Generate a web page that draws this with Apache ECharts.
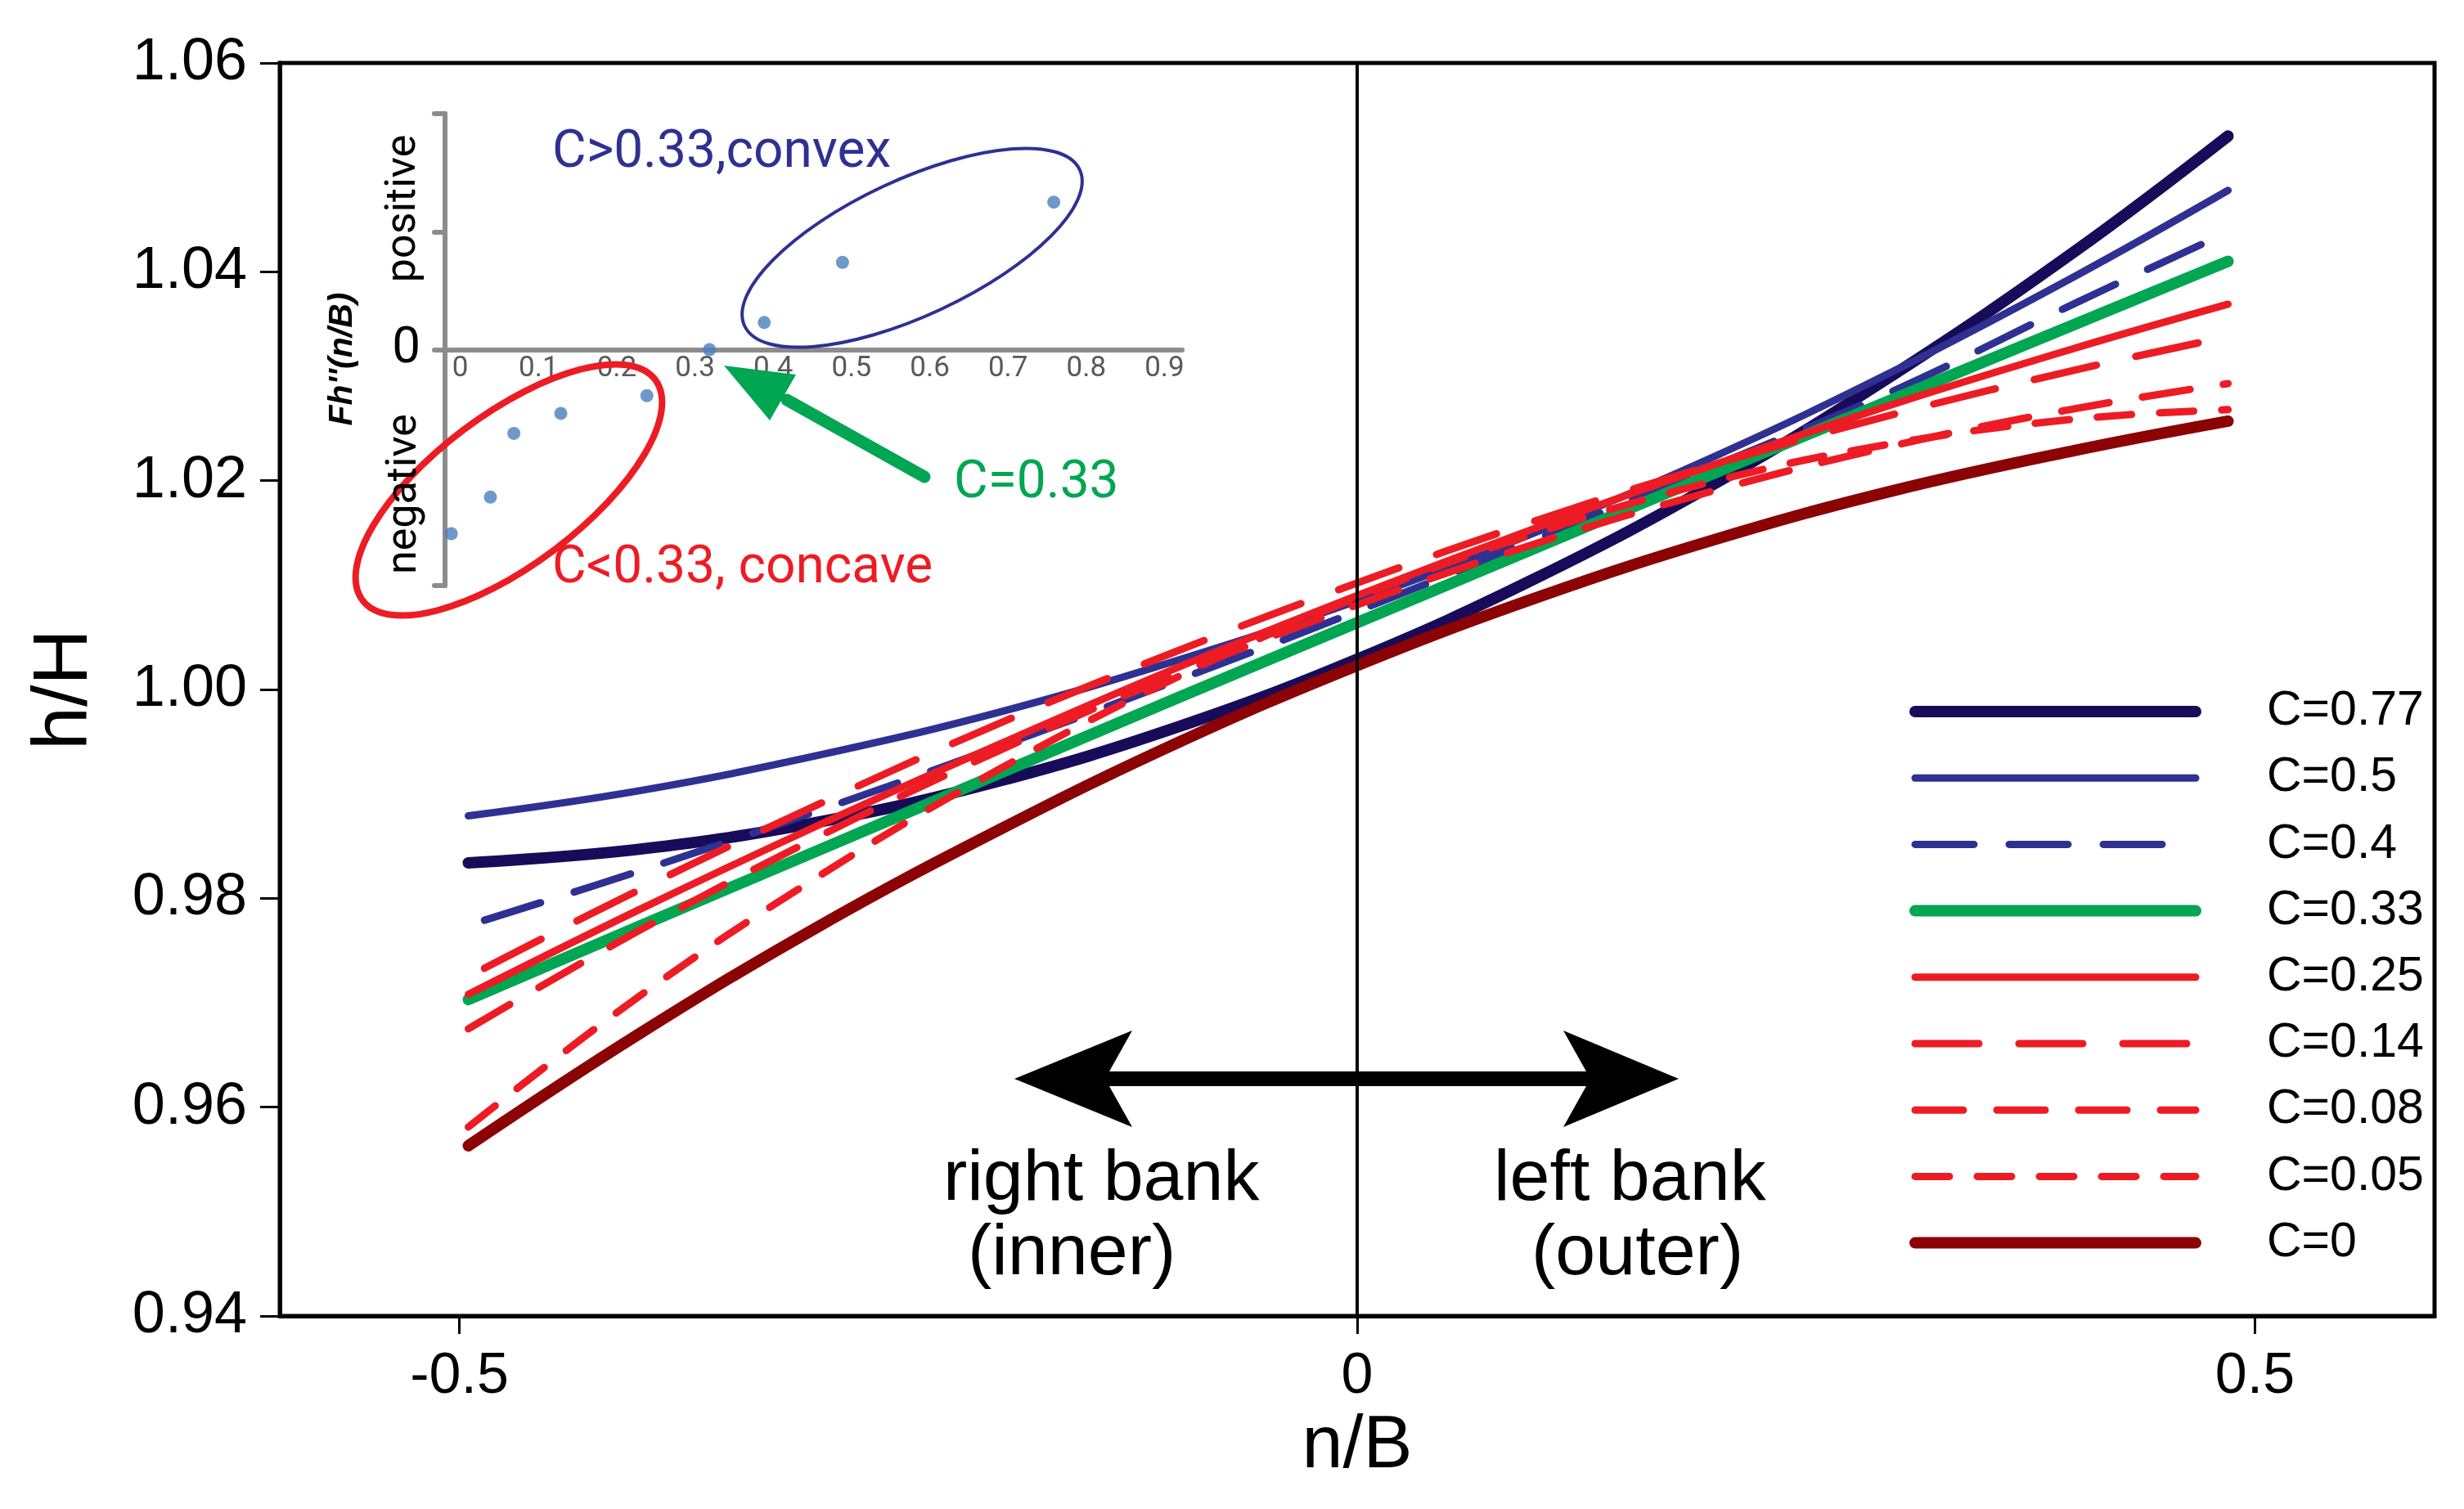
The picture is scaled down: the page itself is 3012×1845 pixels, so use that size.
<!DOCTYPE html>
<html><head><meta charset="utf-8">
<script src="https://cdn.jsdelivr.net/npm/echarts@6/dist/echarts.min.js"></script>
<style>html,body{margin:0;padding:0;background:#fff}#c{width:3012px;height:1845px}</style>
</head><body><div id="c"></div>
<script>
// ---------- data ----------
const nB      = [-0.495, -0.4, -0.3, -0.2, -0.1, 0, 0.1, 0.2, 0.3, 0.4, 0.485];
const nBlong  = [-0.486, -0.4, -0.3, -0.2, -0.1, 0, 0.1, 0.2, 0.3, 0.4, 0.485];
const c077 = [0.9834, 0.9847, 0.9873, 0.9912, 0.9964, 1.0029, 1.0107, 1.0198, 1.0303, 1.0420, 1.0530];
const c050 = [0.9879, 0.9903, 0.9937, 0.9978, 1.0028, 1.0085, 1.0151, 1.0224, 1.0306, 1.0396, 1.0478];
const c040 = [0.9779, 0.9826, 0.9884, 0.9945, 1.0009, 1.0075, 1.0144, 1.0215, 1.0287, 1.0370, 1.0438];
const c033 = [0.9703, 0.9773, 0.9846, 0.9919, 0.9992, 1.0064, 1.0136, 1.0208, 1.0279, 1.0350, 1.0410];
const c025 = [0.9708, 0.9789, 0.9870, 0.9947, 1.0021, 1.0090, 1.0155, 1.0216, 1.0274, 1.0327, 1.0369];
const c014 = [0.9733, 0.9808, 0.9890, 0.9967, 1.0037, 1.0102, 1.0162, 1.0216, 1.0264, 1.0306, 1.0338];
const c008 = [0.9675, 0.9769, 0.9859, 0.9941, 1.0015, 1.0081, 1.0140, 1.0191, 1.0234, 1.0269, 1.0293];
const c005 = [0.9581, 0.9706, 0.9821, 0.9923, 1.0012, 1.0088, 1.0150, 1.0200, 1.0236, 1.0259, 1.0268];
const c000 = [0.9563, 0.9670, 0.9773, 0.9865, 0.9949, 1.0023, 1.0088, 1.0144, 1.0191, 1.0229, 1.0257];
const seriesNames = ['C=0.77','C=0.5','C=0.4','C=0.33','C=0.25','C=0.14','C=0.08','C=0.05','C=0'];
const xTicks = [-0.5, 0, 0.5];
const zeroLineX = [0, 0];
const zeroLineY = [0.94, 1.06];
// inset
const insetC = [0, 0.05, 0.08, 0.14, 0.25, 0.33, 0.4, 0.5, 0.77];
const insetF = [-1.56, -1.25, -0.71, -0.54, -0.39, 0.0, 0.23, 0.74, 1.25];
const insetXTicks = [0, 0.1, 0.2, 0.3, 0.4, 0.5, 0.6, 0.7, 0.8, 0.9];
const insetYTicks = [-2, 0, 1, 2];

// ---------- styles ----------
const curves = [c077, c050, c040, c033, c025, c014, c008, c005, c000];
const xsFor = [nB, nB, nBlong, nB, nB, nBlong, nB, nB, nB];
const styles = [
  {color:'#170b5a', width:14, type:'solid'},
  {color:'#2e3192', width:9,  type:'solid'},
  {color:'#2e3192', width:9,  type:[72,43]},
  {color:'#00a651', width:14, type:'solid'},
  {color:'#ed1c24', width:9,  type:'solid'},
  {color:'#ed1c24', width:9,  type:[78,49]},
  {color:'#ed1c24', width:9,  type:[59,41]},
  {color:'#ed1c24', width:9,  type:[42,34]},
  {color:'#8b0304', width:14, type:'solid'}
];
const ARIAL = '"Liberation Sans", Arial, sans-serif';
const CAL = 'Roboto, "Noto Sans", sans-serif';

const chart = echarts.init(document.getElementById('c'), null, {renderer:'canvas'});

const series = curves.map((ys, i) => ({
  type:'line', name: seriesNames[i], xAxisIndex:0, yAxisIndex:0,
  data: xsFor[i].map((x, j) => [x, ys[j]]),
  smooth: 0.4, symbol:'none', silent:true, z: 3 + i,
  itemStyle:{color: styles[i].color},
  lineStyle:{color: styles[i].color, width: styles[i].width, type: styles[i].type, cap:'round', join:'round'}
}));
series.push({
  type:'line', name:'zero', xAxisIndex:0, yAxisIndex:0, symbol:'none', silent:true, z:20,
  data: zeroLineX.map((x, j) => [x, zeroLineY[j]]),
  lineStyle:{color:'#000', width:4}
});
series.push({
  type:'scatter', name:'inset', xAxisIndex:1, yAxisIndex:1, silent:true, z:30,
  data: insetC.map((c, i) => [c, insetF[i]]),
  symbolSize: 16, itemStyle:{color:'#4a7ebb'}
});

const GRAY = '#8c8c8c';
const option = {
  animation:false,
  backgroundColor:'#fff',
  grid:[
    {left:342, top:77, right:36, bottom:236, show:true, borderColor:'#000', borderWidth:5, backgroundColor:'transparent'},
    {left:544, top:139, width:901, height:577}
  ],
  xAxis:[
    {type:'value', gridIndex:0, min:-0.6, max:0.6,
     axisLine:{show:true, onZero:false, lineStyle:{color:'#000', width:5}},
     axisTick:{show:true, customValues:xTicks, length:22, lineStyle:{color:'#000', width:3}},
     axisLabel:{customValues:xTicks, fontSize:70, fontFamily:ARIAL, color:'#000', margin:40,
       formatter:v => (v === 0 ? '0' : String(v))},
     splitLine:{show:false},
     name:'n/B', nameLocation:'middle', nameGap:115,
     nameTextStyle:{fontSize:90, fontFamily:ARIAL, color:'#000'}},
    {type:'value', gridIndex:1, min:-0.008, max:0.934, position:'bottom', offset:-288.5,
     axisLine:{show:true, onZero:false, lineStyle:{color:GRAY, width:6, cap:'round'}},
     axisTick:{show:false},
     axisLabel:{customValues:insetXTicks, fontSize:35, fontFamily:CAL, color:'#595959', margin:6,
       padding:[0,0,0,22], formatter:v => (v === 0 ? '0' : v.toFixed(1))},
     splitLine:{show:false}}
  ],
  yAxis:[
    {type:'value', gridIndex:0, min:0.94, max:1.06, interval:0.02,
     axisLine:{show:true, onZero:false, lineStyle:{color:'#000', width:5}},
     axisTick:{show:true, length:24, lineStyle:{color:'#000', width:3}},
     axisLabel:{fontSize:72, fontFamily:ARIAL, color:'#000', margin:40, formatter:v => v.toFixed(2)},
     splitLine:{show:false},
     name:'h/H', nameLocation:'middle', nameGap:215, nameRotate:90,
     nameTextStyle:{fontSize:95, fontFamily:ARIAL, color:'#000'}},
    {type:'value', gridIndex:1, min:-2, max:2, interval:1,
     axisLine:{show:true, onZero:false, lineStyle:{color:GRAY, width:6, cap:'round'}},
     axisTick:{show:true, customValues:insetYTicks, length:13, lineStyle:{color:GRAY, width:6, cap:'round'}},
     axisLabel:{customValues:[0], fontSize:62, fontFamily:CAL, color:'#000', margin:30,
       formatter:v => (v === 0 ? '0' : '')},
     splitLine:{show:false}}
  ],
  legend:{
    orient:'vertical', left:2334, top:840, padding:0, itemWidth:343, itemHeight:60, itemGap:21.2,
    data: seriesNames, selectedMode:false,
    textStyle:{fontSize:59, fontFamily:ARIAL, color:'#000', padding:[0,0,0,82], lineHeight:60},
    lineStyle:{width:'inherit'},
    itemStyle:{opacity:0}
  },
  series: series,
  graphic:[
    // main double arrow
    {type:'polygon', z:50, shape:{points:[[1240,1319],[1384,1260],[1356,1310],[1939,1310],[1911,1260],[2052,1319],[1911,1378],[1939,1328],[1356,1328],[1384,1378]]},
     style:{fill:'#000'}},
    {type:'text', z:50, x:1153, y:1443, style:{text:'right bank', font:'88px '+ARIAL, fill:'#000', textAlign:'left', align:'left', textVerticalAlign:'middle', verticalAlign:'middle'}},
    {type:'text', z:50, x:1183, y:1534, style:{text:'(inner)', font:'88px '+ARIAL, fill:'#000', textAlign:'left', align:'left', textVerticalAlign:'middle', verticalAlign:'middle'}},
    {type:'text', z:50, x:1826, y:1443, style:{text:'left bank', font:'88px '+ARIAL, fill:'#000', textAlign:'left', align:'left', textVerticalAlign:'middle', verticalAlign:'middle'}},
    {type:'text', z:50, x:1872, y:1534, style:{text:'(outer)', font:'88px '+ARIAL, fill:'#000', textAlign:'left', align:'left', textVerticalAlign:'middle', verticalAlign:'middle'}},
    // inset ellipses
    {type:'ellipse', z:40, x:1115, y:303, rotation:25*Math.PI/180, shape:{cx:0, cy:0, rx:226, ry:83},
     style:{fill:'none', stroke:'#2e3192', lineWidth:4}},
    {type:'ellipse', z:40, x:622, y:599, rotation:37*Math.PI/180, shape:{cx:0, cy:0, rx:224, ry:92},
     style:{fill:'none', stroke:'#ed1c24', lineWidth:8}},
    // green arrow
    {type:'polyline', z:40, shape:{points:[[1130,583],[962,489]]}, style:{stroke:'#00a651', lineWidth:15, lineCap:'round', fill:'none'}},
    {type:'polygon', z:40, shape:{points:[[885,447],[941,514],[973,458]]}, style:{fill:'#00a651'}},
    // inset texts
    {type:'text', z:45, x:675, y:188, style:{text:'C>0.33,convex', font:'64px '+CAL, fill:'#2e3192', textAlign:'left', align:'left', textVerticalAlign:'middle', verticalAlign:'middle'}},
    {type:'text', z:45, x:1166, y:592, style:{text:'C=0.33', font:'64px '+CAL, fill:'#00a651', textAlign:'left', align:'left', textVerticalAlign:'middle', verticalAlign:'middle'}},
    {type:'text', z:45, x:675, y:696, style:{text:'C<0.33, concave', font:'64px '+CAL, fill:'#ed1c24', textAlign:'left', align:'left', textVerticalAlign:'middle', verticalAlign:'middle'}},
    {type:'text', z:45, x:494, y:255, rotation:Math.PI/2, style:{text:'positive', font:'52px '+CAL, fill:'#000', textAlign:'center', align:'center', textVerticalAlign:'middle', verticalAlign:'middle'}},
    {type:'text', z:45, x:495, y:604, rotation:Math.PI/2, style:{text:'negative', font:'52px '+CAL, fill:'#000', textAlign:'center', align:'center', textVerticalAlign:'middle', verticalAlign:'middle'}},
    {type:'text', z:45, x:419, y:439, rotation:Math.PI/2, style:{text:"Fh''(n/B)", font:'italic bold 41px '+ARIAL, fill:'#000', textAlign:'center', align:'center', textVerticalAlign:'middle', verticalAlign:'middle'}}
  ]
};
chart.setOption(option);
</script>
</body></html>
